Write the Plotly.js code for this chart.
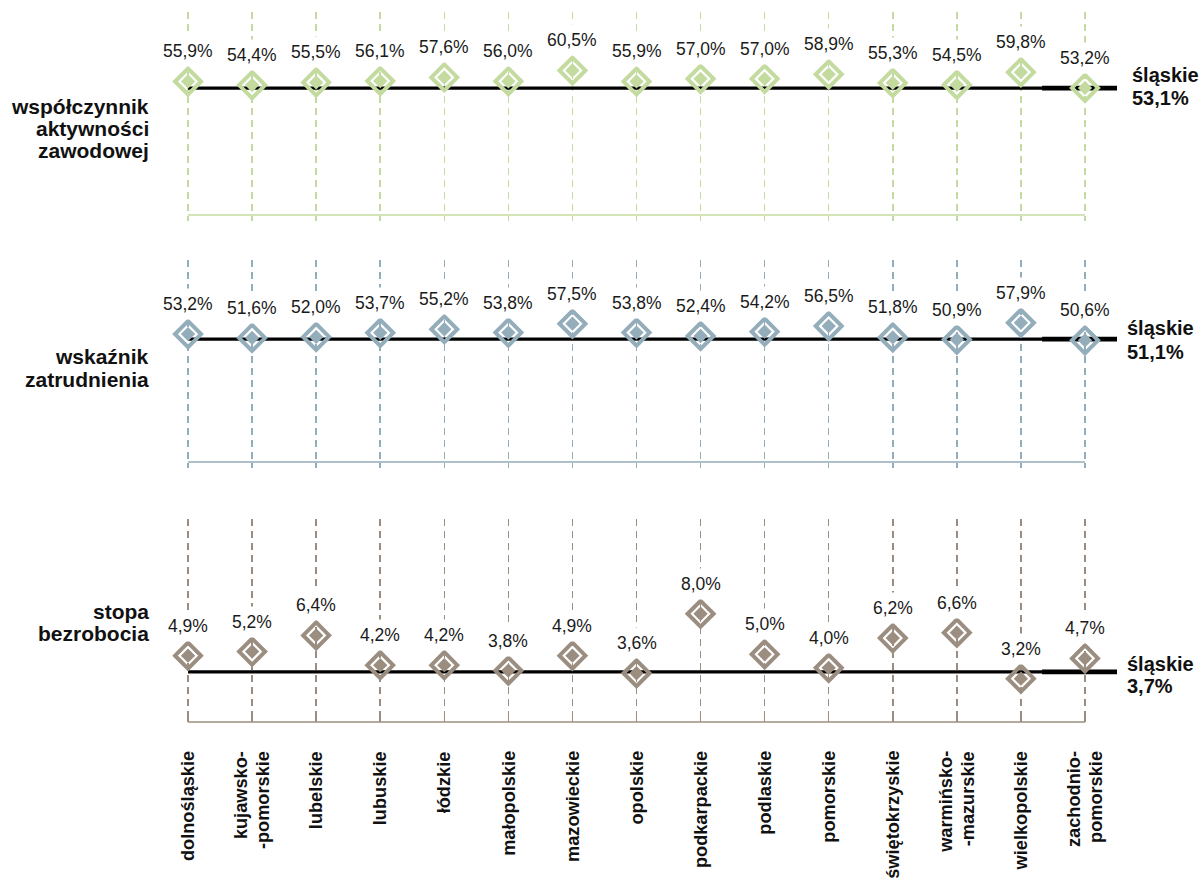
<!DOCTYPE html>
<html>
<head>
<meta charset="utf-8">
<script src="https://cdn.plot.ly/plotly-3.0.1.min.js"></script>
<style>html,body{margin:0;padding:0;background:#fff;}#chart{width:1203px;height:881px;}</style>
</head>
<body>
<div id="chart"></div>
<script>
// ---- data ----
const categories = ['dolnośląskie','kujawsko-<br>-pomorskie','lubelskie','lubuskie','łódzkie','małopolskie','mazowieckie','opolskie','podkarpackie','podlaskie','pomorskie','świętokrzyskie','warmińsko-<br>-mazurskie','wielkopolskie','zachodnio-<br>pomorskie'];
const aktywnosc = [55.9,54.4,55.5,56.1,57.6,56.0,60.5,55.9,57.0,57.0,58.9,55.3,54.5,59.8,53.2];
const zatrudnienie = [53.2,51.6,52.0,53.7,55.2,53.8,57.5,53.8,52.4,54.2,56.5,51.8,50.9,57.9,50.6];
const bezrobocie = [4.9,5.2,6.4,4.2,4.2,3.8,4.9,3.6,8.0,5.0,4.0,6.2,6.6,3.2,4.7];
const slaskieName = 'śląskie';
const slaskie = [53.1, 51.1, 3.7];
const panelNames = [['współczynnik','aktywności','zawodowej'], ['wskaźnik','zatrudnienia'], ['stopa','bezrobocia']];

// ---- styling ----
const FONT = 'Liberation Sans, Arial, sans-serif';
const series = [aktywnosc, zatrudnienie, bezrobocie];
const colors = ['#c4db9f', '#93adba', '#9b8e80'];
const suffix = ['', '2', '3'];
const yDomains = [[0.7560, 0.9864], [0.4756, 0.7049], [0.1805, 0.4109]];
const yRanges = [[0, 85], [0, 84], [0, 15]];
const nameY = [[106, 128.5, 151], [356, 379], [611, 633]];
const rightShift = [[13.5, -9.5], [11.5, -13], [8, -14.5]];
const rightX = [1.0135, 1.0087, 1.0087];
const catLabelTop = 749;   // px from top where rotated category labels begin
const catLineGap = 22;     // px between lines of a two-line category label

const fmt = v => v.toFixed(1).replace('.', ',') + '%';
const xIdx = categories.map((c, i) => i);
const lastIdx = categories.length - 1;

const data = [];
const layout = {
  width: 1203, height: 881,
  margin: {l: 156, r: 86, t: 0, b: 0},
  paper_bgcolor: '#fff', plot_bgcolor: 'rgba(0,0,0,0)',
  showlegend: false,
  font: {family: FONT, color: '#1a1a1a'},
  shapes: [], annotations: []
};

series.forEach((vals, p) => {
  const s = suffix[p];
  const col = colors[p];
  data.push({
    x: categories, y: vals, xaxis: 'x' + s, yaxis: 'y' + s,
    type: 'scatter', mode: 'markers', cliponaxis: false, hoverinfo: 'skip',
    marker: {symbol: 'diamond-open', size: 20, color: col, line: {width: 4, color: col}}
  });
  data.push({
    x: categories, y: vals, xaxis: 'x' + s, yaxis: 'y' + s,
    type: 'scatter', mode: 'markers', cliponaxis: false, hoverinfo: 'skip',
    marker: {symbol: 'diamond', size: 11, color: col, line: {width: 0}}
  });

  layout['xaxis' + s] = {
    type: 'category', domain: [0, 1], range: [-0.5, lastIdx + 0.5], anchor: 'y' + s,
    showline: false,
    ticks: p === 2 ? 'inside' : 'outside', ticklen: p === 2 ? 7 : 5, tickwidth: 1.5, tickcolor: col,
    showgrid: true, gridcolor: col, gridwidth: 1.5, griddash: '7px,5px',
    zeroline: false, fixedrange: true, showticklabels: false
  };
  layout['yaxis' + s] = {
    domain: yDomains[p], range: yRanges[p], anchor: 'x' + s,
    visible: false, showgrid: false, zeroline: false, fixedrange: true
  };

  // bottom axis line of the panel (from first to last category)
  layout.shapes.push({type: 'line', layer: 'below', xref: 'x' + s, yref: 'paper',
    x0: 0, x1: lastIdx, y0: yDomains[p][0], y1: yDomains[p][0], line: {color: col, width: 1.5}});

  // reference line for śląskie
  layout.shapes.push({type: 'line', layer: 'between', xref: 'x' + s, yref: 'y' + s,
    x0: 0, x1: lastIdx - 0.67, y0: slaskie[p], y1: slaskie[p], line: {color: '#000', width: 3.3}});
  layout.shapes.push({type: 'line', layer: 'between', xref: 'x' + s, yref: 'y' + s,
    x0: lastIdx - 0.67, x1: lastIdx + 0.5, y0: slaskie[p], y1: slaskie[p], line: {color: '#000', width: 4.7}});

  // data labels
  vals.forEach((v, i) => {
    layout.annotations.push({
      xref: 'x' + s, yref: 'y' + s, x: xIdx[i], y: v, yshift: 30,
      text: fmt(v), showarrow: false, xanchor: 'center', yanchor: 'middle',
      bgcolor: '#ffffff', borderpad: 5,
      font: {family: FONT, size: 17.5, color: '#1a1a1a'}
    });
  });

  // right labels
  layout.annotations.push({
    xref: 'paper', yref: 'y' + s, x: rightX[p], y: slaskie[p], yshift: rightShift[p][0],
    text: slaskieName, showarrow: false, xanchor: 'left', yanchor: 'middle',
    font: {family: FONT, size: 20, color: '#111', weight: 'bold'}
  });
  layout.annotations.push({
    xref: 'paper', yref: 'y' + s, x: rightX[p], y: slaskie[p], yshift: rightShift[p][1],
    text: fmt(slaskie[p]), showarrow: false, xanchor: 'left', yanchor: 'middle',
    font: {family: FONT, size: 20, color: '#111', weight: 'bold'}
  });

  // left panel names
  panelNames[p].forEach((t, k) => {
    layout.annotations.push({
      xref: 'paper', yref: 'paper', x: -0.005, y: 1 - nameY[p][k] / 881,
      text: t, showarrow: false, xanchor: 'right', yanchor: 'middle',
      font: {family: FONT, size: 21, color: '#111', weight: 'bold'}
    });
  });
});

// rotated category labels under the bottom panel (top-aligned lines)
categories.forEach((c, i) => {
  const lines = c.split('<br>');
  lines.forEach((ln, k) => {
    layout.annotations.push({
      xref: 'x3', yref: 'paper', x: xIdx[i], y: 1 - catLabelTop / 881,
      xshift: (k - (lines.length - 1) / 2) * catLineGap,
      text: ln, showarrow: false, textangle: -90, xanchor: 'center', yanchor: 'top',
      font: {family: FONT, size: 18.2, color: '#111', weight: 'bold'}
    });
  });
});

Plotly.newPlot('chart', data, layout, {displayModeBar: false, staticPlot: true});
</script>
</body>
</html>
